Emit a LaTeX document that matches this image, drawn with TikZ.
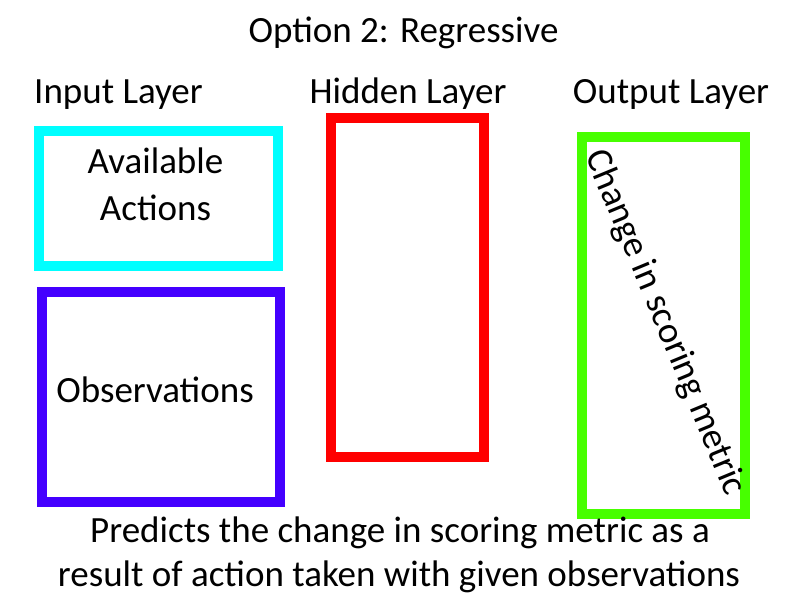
\documentclass[tikz,border=0pt]{standalone}
\usepackage{fontspec}
\setmainfont{Carlito}
\definecolor{cyanbox}{HTML}{00FFFF}
\definecolor{bluebox}{HTML}{4400FF}
\definecolor{redbox}{HTML}{FF0000}
\definecolor{greenbox}{HTML}{47FF00}
\begin{document}
\begin{tikzpicture}[x=1pt,y=-1pt,
  lbl/.style={inner sep=0pt,anchor=base,font=\fontsize{37}{44}\selectfont},
  layerbox/.style={line width=10pt}]
\useasboundingbox (0,0) rectangle (800,600);
\node[lbl] (title) at (403.5,42) {Option 2: Regressive};
\node[lbl] (inlbl) at (118.5,103) {Input Layer};
\node[lbl] (hidlbl) at (408,103) {Hidden Layer};
\node[lbl] (outlbl) at (671,103) {Output Layer};
\draw[layerbox,cyanbox] (39,131) rectangle (278,266);
\draw[layerbox,bluebox] (42,292) rectangle (280,502);
\draw[layerbox,redbox] (331,118) rectangle (484,457);
\draw[layerbox,greenbox] (582,137) rectangle (745,514);
\node[lbl] (avail) at (155.5,173) {Available};
\node[lbl] (act) at (155.5,220) {Actions};
\node[lbl] (obs) at (155,402) {Observations};
\node[inner sep=0pt,anchor=center,rotate=-67.5,font=\fontsize{37}{44}\selectfont] (chg) at (665,323) {Change in scoring metric};
\node[lbl] (bot1) at (400,542) {Predicts the change in scoring metric as a};
\node[lbl] (bot2) at (399,586) {result of action taken with given observations};
\end{tikzpicture}
\end{document}
